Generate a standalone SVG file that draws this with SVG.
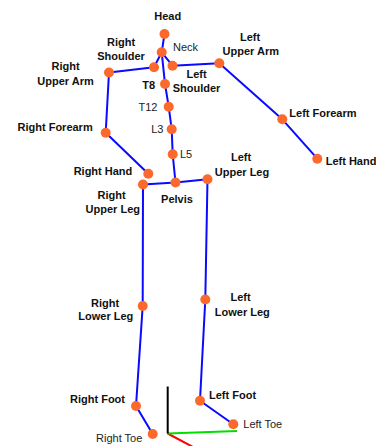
<svg xmlns="http://www.w3.org/2000/svg" width="376" height="446" viewBox="0 0 376 446">
  <style>
    .bone { stroke: #0a0aff; stroke-width: 2; fill: none; stroke-linecap: round; stroke-linejoin: round; }
    .joint { fill: #fb6a2c; }
    .lb { font-family: "Liberation Sans", Arial, sans-serif; font-size: 11px; font-weight: bold; fill: #111; }
    .lr { font-family: "Liberation Sans", Arial, sans-serif; font-size: 11px; fill: #222; }
    .mid { text-anchor: middle; }
    .end { text-anchor: end; }
  </style>

  <!-- coordinate axes at the floor -->
  <g id="axes">
    <line x1="167.7" y1="433.5" x2="193" y2="447" stroke="#ff0000" stroke-width="2"/>
    <line x1="167.7" y1="433.5" x2="237" y2="431" stroke="#00e000" stroke-width="2"/>
    <line x1="167.7" y1="433.5" x2="167.7" y2="386.5" stroke="#000" stroke-width="2"/>
  </g>

  <!-- skeleton bones -->
  <g id="connectors">
    <polyline class="bone" points="175.5,182.5 172.7,154.3 171.7,129.3 168.7,106.7 165,84 161.7,52.3 164.5,34"/>
    <line class="bone" x1="161.7" y1="52.3" x2="154" y2="67.3"/>
    <line class="bone" x1="161.7" y1="52.3" x2="172.5" y2="65.7"/>
    <polyline class="bone" points="154,67.3 109,72.5 105.7,132.7 148.3,173.7"/>
    <polyline class="bone" points="172.5,65.7 219.3,63.3 282.3,119.3 317.3,158.7"/>
    <polyline class="bone" points="143,184.5 175.5,182.5 207.5,179.3"/>
    <polyline class="bone" points="143,184.5 142.7,306 136,406 152.7,434"/>
    <polyline class="bone" points="207.5,179.3 205.3,299.5 200,400.7 233.3,424.3"/>
  </g>

  <g id="head"><circle class="joint" cx="164.5" cy="34" r="5"/><text class="lb mid" x="167.7" y="20">Head</text></g>
  <g id="neck"><circle class="joint" cx="161.7" cy="52.3" r="5"/><text class="lr" x="173" y="51">Neck</text></g>
  <g id="right-shoulder"><circle class="joint" cx="154" cy="67.3" r="5"/><text class="lb mid" x="121" y="46">Right</text><text class="lb mid" x="121" y="60">Shoulder</text></g>
  <g id="left-shoulder"><circle class="joint" cx="172.5" cy="65.7" r="5"/><text class="lb mid" x="196.5" y="78">Left</text><text class="lb mid" x="196.5" y="92">Shoulder</text></g>
  <g id="right-upper-arm"><circle class="joint" cx="109" cy="72.5" r="5"/><text class="lb mid" x="65.5" y="70">Right</text><text class="lb mid" x="65.5" y="84.5">Upper Arm</text></g>
  <g id="left-upper-arm"><circle class="joint" cx="219.3" cy="63.3" r="5"/><text class="lb mid" x="250" y="41">Left</text><text class="lb mid" x="250.8" y="55">Upper Arm</text></g>
  <g id="t8"><circle class="joint" cx="165" cy="84" r="5"/><text class="lb end" x="155" y="89">T8</text></g>
  <g id="t12"><circle class="joint" cx="168.7" cy="106.7" r="5"/><text class="lr end" x="157.5" y="110.7">T12</text></g>
  <g id="l3"><circle class="joint" cx="171.7" cy="129.3" r="5"/><text class="lr end" x="163.5" y="133.3">L3</text></g>
  <g id="l5"><circle class="joint" cx="172.7" cy="154.3" r="5"/><text class="lr" x="180" y="158.3">L5</text></g>
  <g id="right-forearm"><circle class="joint" cx="105.7" cy="132.7" r="5"/><text class="lb end" x="92.7" y="130.7">Right Forearm</text></g>
  <g id="left-forearm"><circle class="joint" cx="282.3" cy="119.3" r="5"/><text class="lb" x="289.3" y="117.3">Left Forearm</text></g>
  <g id="right-hand"><circle class="joint" cx="148.3" cy="173.7" r="5"/><text class="lb end" x="132.3" y="175">Right Hand</text></g>
  <g id="left-hand"><circle class="joint" cx="317.3" cy="158.7" r="5"/><text class="lb" x="325.7" y="165">Left Hand</text></g>
  <g id="pelvis"><circle class="joint" cx="175.5" cy="182.5" r="5"/><text class="lb mid" x="177" y="203.3">Pelvis</text></g>
  <g id="right-upper-leg"><circle class="joint" cx="143" cy="184.5" r="5"/><text class="lb mid" x="111.5" y="199">Right</text><text class="lb mid" x="112.8" y="213.3">Upper Leg</text></g>
  <g id="left-upper-leg"><circle class="joint" cx="207.5" cy="179.3" r="5"/><text class="lb mid" x="241" y="160.7">Left</text><text class="lb mid" x="242" y="175.7">Upper Leg</text></g>
  <g id="right-lower-leg"><circle class="joint" cx="142.7" cy="306" r="5"/><text class="lb mid" x="105" y="306.7">Right</text><text class="lb mid" x="105.8" y="320">Lower Leg</text></g>
  <g id="left-lower-leg"><circle class="joint" cx="205.3" cy="299.5" r="5"/><text class="lb mid" x="240.5" y="300.7">Left</text><text class="lb mid" x="242.3" y="315.7">Lower Leg</text></g>
  <g id="right-foot"><circle class="joint" cx="136" cy="406" r="5"/><text class="lb end" x="125" y="403.3">Right Foot</text></g>
  <g id="left-foot"><circle class="joint" cx="200" cy="400.7" r="5"/><text class="lb" x="209" y="399">Left Foot</text></g>
  <g id="right-toe"><circle class="joint" cx="152.7" cy="434" r="5"/><text class="lr end" x="142.3" y="442.3">Right Toe</text></g>
  <g id="left-toe"><circle class="joint" cx="233.3" cy="424.3" r="5"/><text class="lr" x="243.3" y="428.3">Left Toe</text></g>
</svg>
